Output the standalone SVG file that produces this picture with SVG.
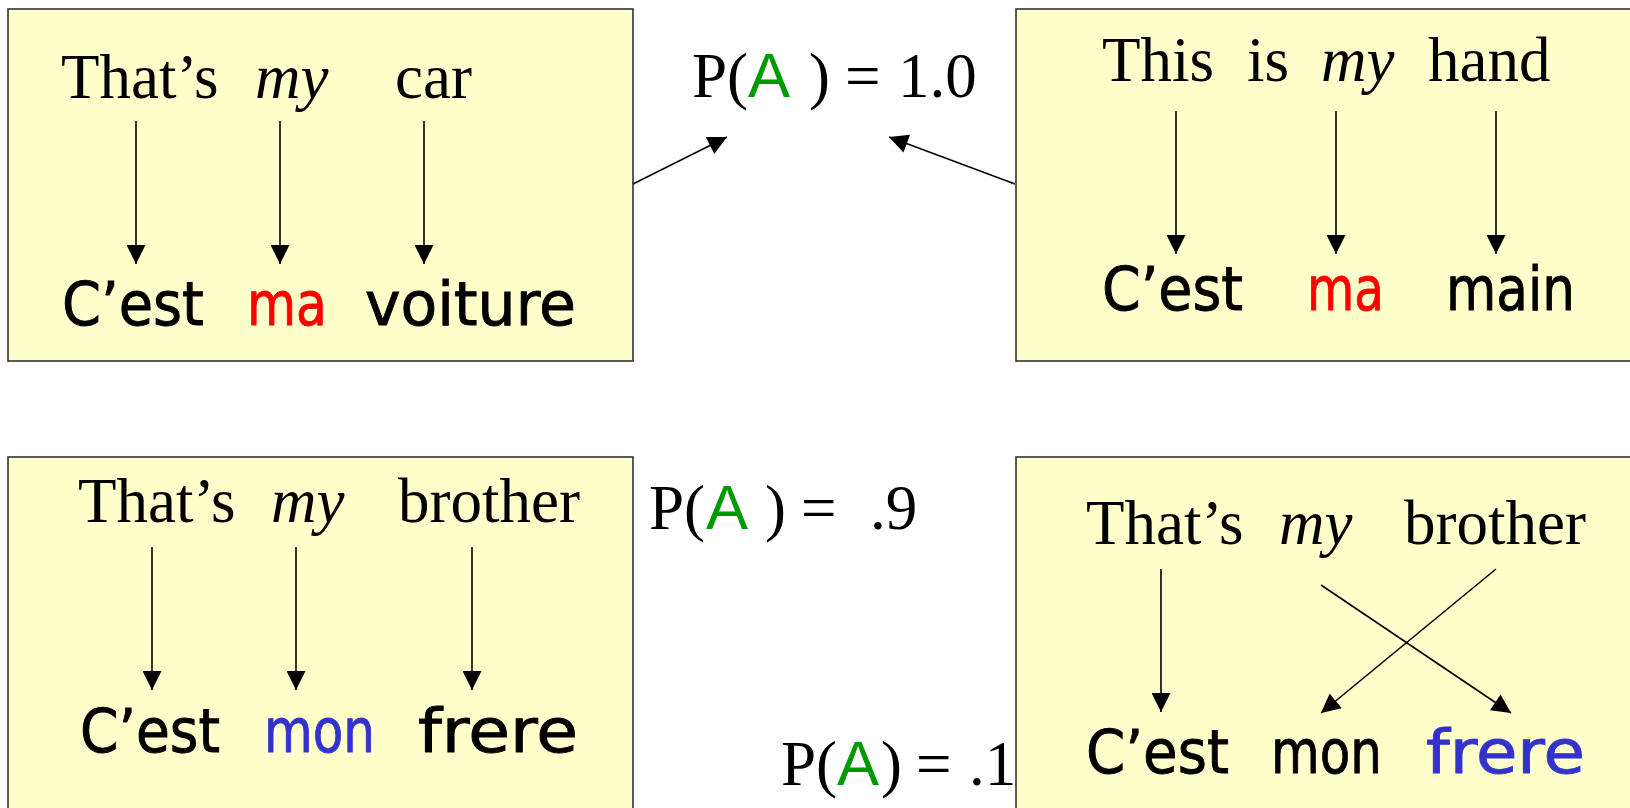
<svg xmlns="http://www.w3.org/2000/svg" width="1630" height="808" viewBox="0 0 1630 808">
<style>
.box{fill:#FFFFCC;stroke:#333;stroke-width:1.6}
.en{font-family:"Liberation Serif","Times New Roman",serif;font-size:63px;fill:#000}
.it{font-style:italic}
.fr{font-family:"DejaVu Sans","Noto Sans",sans-serif;font-size:60px;fill:#000;stroke:#000;stroke-width:0.9}
.sa{font-family:"Liberation Sans",Arial,sans-serif;font-size:63px;fill:#009900}
.red{fill:#FF0000;stroke:#FF0000}
.blue{fill:#3333CC;stroke:#3333CC}
.ln{stroke:#000;stroke-width:1.6;fill:none;marker-end:url(#ah)}
</style>
<defs>
<marker id="ah" viewBox="0 0 20 20" refX="20" refY="10" markerWidth="20" markerHeight="19" markerUnits="userSpaceOnUse" orient="auto">
<path d="M0,0 L20,10 L0,20 z" fill="#000"/>
</marker>
</defs>
<rect width="1630" height="808" fill="#fff"/>
<g id="box1">
<rect class="box" x="8" y="9" width="625" height="352"/>
<text class="en" x="61" y="98">That’s</text>
<text class="en it" x="255" y="98">my</text>
<text class="en" x="395" y="98">car</text>
<text class="fr" x="62" y="325" textLength="142" lengthAdjust="spacingAndGlyphs">C’est</text>
<text class="fr red" x="247" y="325" textLength="80" lengthAdjust="spacingAndGlyphs">ma</text>
<text class="fr" x="365" y="325" textLength="211" lengthAdjust="spacingAndGlyphs">voiture</text>
</g>
<g id="box2">
<rect class="box" x="1016" y="9" width="660" height="352"/>
<text class="en" x="1102" y="81">This</text>
<text class="en" x="1247" y="81">is</text>
<text class="en it" x="1321" y="81">my</text>
<text class="en" x="1428" y="81">hand</text>
<text class="fr" x="1102" y="310" textLength="141" lengthAdjust="spacingAndGlyphs">C’est</text>
<text class="fr red" x="1307" y="310" textLength="77" lengthAdjust="spacingAndGlyphs">ma</text>
<text class="fr" x="1446" y="310" textLength="129" lengthAdjust="spacingAndGlyphs">main</text>
</g>
<g id="box3">
<rect class="box" x="8" y="457" width="625" height="400"/>
<text class="en" x="78" y="522">That’s</text>
<text class="en it" x="271" y="522">my</text>
<text class="en" x="398" y="522">brother</text>
<text class="fr" x="80" y="752" textLength="140" lengthAdjust="spacingAndGlyphs">C’est</text>
<text class="fr blue" x="264" y="752" textLength="111" lengthAdjust="spacingAndGlyphs">mon</text>
<text class="fr" x="418" y="752" textLength="160" lengthAdjust="spacingAndGlyphs">frere</text>
</g>
<g id="box4">
<rect class="box" x="1016" y="457" width="660" height="400"/>
<text class="en" x="1086" y="544">That’s</text>
<text class="en it" x="1279" y="544">my</text>
<text class="en" x="1404" y="544">brother</text>
<text class="fr" x="1086" y="773" textLength="143" lengthAdjust="spacingAndGlyphs">C’est</text>
<text class="fr" x="1271" y="773" textLength="111" lengthAdjust="spacingAndGlyphs">mon</text>
<text class="fr blue" x="1426" y="773" textLength="159" lengthAdjust="spacingAndGlyphs">frere</text>
</g>
<g id="prob1">
<text class="en" y="97"><tspan x="692">P(</tspan><tspan class="sa" x="748">A</tspan><tspan x="809">)</tspan><tspan x="845">=</tspan><tspan x="898">1.0</tspan></text>
</g>
<g id="prob2">
<text class="en" y="529"><tspan x="649">P(</tspan><tspan class="sa" x="706">A</tspan><tspan x="765">)</tspan><tspan x="801">=</tspan><tspan x="870">.9</tspan></text>
</g>
<g id="prob3">
<text class="en" y="785"><tspan x="781">P(</tspan><tspan class="sa" x="837">A</tspan><tspan x="881">)</tspan><tspan x="916">=</tspan><tspan x="969">.1</tspan></text>
</g>
<g id="connectors">
<line class="ln" x1="136" y1="121" x2="136" y2="264"/>
<line class="ln" x1="280" y1="121" x2="280" y2="264"/>
<line class="ln" x1="424" y1="121" x2="424" y2="264"/>
<line class="ln" x1="1176" y1="111" x2="1176" y2="254"/>
<line class="ln" x1="1336" y1="111" x2="1336" y2="254"/>
<line class="ln" x1="1496" y1="111" x2="1496" y2="254"/>
<line class="ln" x1="152" y1="547" x2="152" y2="690"/>
<line class="ln" x1="296" y1="547" x2="296" y2="690"/>
<line class="ln" x1="472" y1="547" x2="472" y2="690"/>
<line class="ln" x1="1161" y1="569" x2="1161" y2="712"/>
<line class="ln" x1="1321" y1="585" x2="1511" y2="713"/>
<line class="ln" x1="1496" y1="569" x2="1321" y2="713"/>
<line class="ln" x1="633" y1="184" x2="727" y2="137"/>
<line class="ln" x1="1015" y1="184" x2="889" y2="137"/>
</g>
</svg>
